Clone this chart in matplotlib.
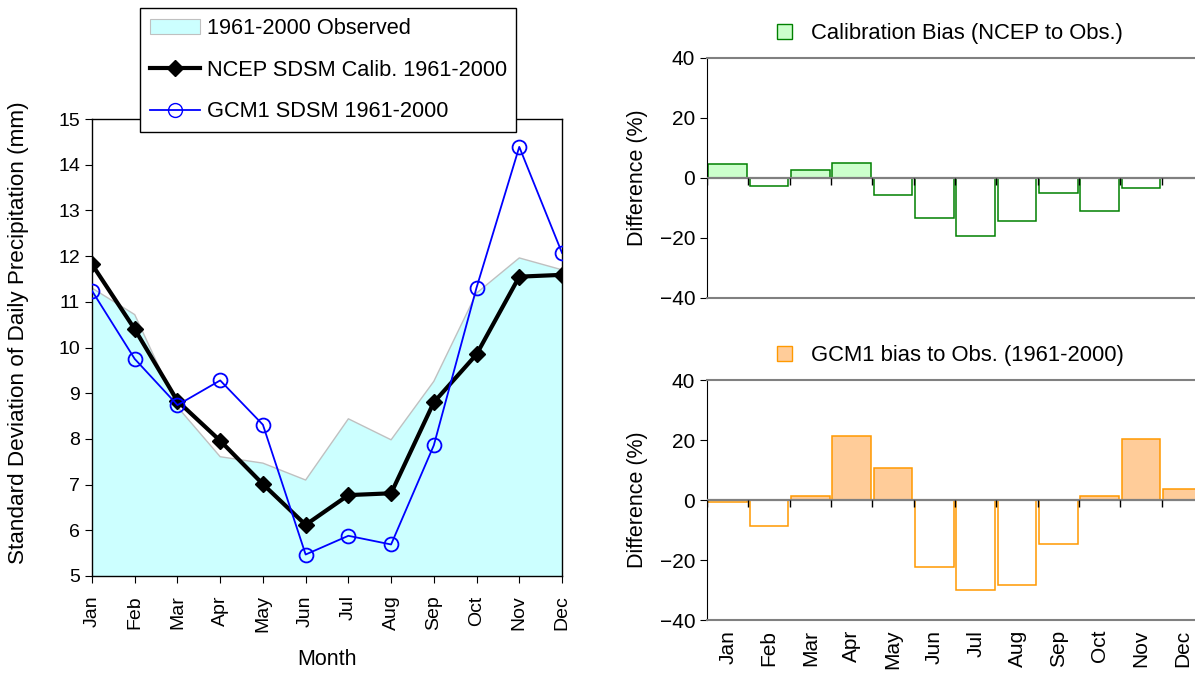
import numpy as np
import matplotlib
matplotlib.use("Agg")
import matplotlib.pyplot as plt
from matplotlib.patches import Patch
from matplotlib.lines import Line2D

plt.rcParams['font.family'] = ['Liberation Sans', 'DejaVu Sans']

months = ["Jan", "Feb", "Mar", "Apr", "May", "Jun", "Jul", "Aug", "Sep", "Oct", "Nov", "Dec"]
observed = [11.3, 10.72, 8.7, 7.61, 7.47, 7.10, 8.44, 7.98, 9.26, 11.19, 11.96, 11.70]
ncep = [11.82, 10.40, 8.83, 7.96, 7.01, 6.12, 6.77, 6.81, 8.80, 9.85, 11.55, 11.59]
gcm = [11.24, 9.75, 8.74, 9.28, 8.31, 5.47, 5.88, 5.69, 7.86, 11.31, 14.39, 12.07]
calib_bias = [4.5, -2.8, 2.8, 4.9, -5.6, -13.3, -19.4, -14.4, -5.0, -11.1, -3.4, 0.0]
gcm_bias = [-0.7, -8.8, 1.5, 21.5, 10.8, -22.3, -29.9, -28.2, -14.7, 1.5, 20.3, 3.6]

W, H = 1195, 676
fig = plt.figure(figsize=(W / 100, H / 100), dpi=100)
TICK_L = 14
TICK_R = 15
LAB = 15.5
LEG = 15.7

def fx(px):
    return px / W

def fy(py):
    return 1 - py / H

# ---------------- Left chart ----------------
ax = fig.add_axes([fx(92), fy(576), fx(562) - fx(92), fy(119) - fy(576)])
x = np.arange(len(months))
ax.fill_between(x, observed, 5, facecolor='#ccffff', edgecolor='none', zorder=1)
ax.plot(x, observed, color='#c0c0c0', lw=1, zorder=2)
ax.plot(x, ncep, color='black', lw=3, marker='D', ms=8, zorder=3)
ax.plot(x, gcm, color='#0000ff', lw=1.3, marker='o', ms=10, mfc='none', mec='#0000ff', mew=1.3, zorder=4)
ax.set_xlim(0, 11)
ax.set_ylim(5, 15)
ax.set_yticks(np.arange(5, 16, 1))
ax.set_xticks(x)
ax.set_xticklabels(months, rotation=90, fontsize=TICK_L)
ax.tick_params(axis='y', labelsize=TICK_L, direction='out', length=5)
ax.tick_params(axis='x', direction='out', length=5, pad=9)
for s in ax.spines.values():
    s.set_color('black')
    s.set_linewidth(1)
ax.set_ylabel("Standard Deviation of Daily Precipitation (mm)", fontsize=16.2)
ax.yaxis.set_label_coords(-0.134, 0.532)
ax.set_xlabel("Month", fontsize=LAB, labelpad=12)

handles = [
    Patch(facecolor='#ccffff', edgecolor='#c0c0c0', lw=0.8),
    Line2D([], [], color='black', lw=3, marker='D', ms=8),
    Line2D([], [], color='#0000ff', lw=1.3, marker='o', ms=10, mfc='none', mec='#0000ff'),
]
labels = ["1961-2000 Observed", "NCEP SDSM Calib. 1961-2000", "GCM1 SDSM 1961-2000"]
leg = fig.legend(handles, labels, loc='upper left', bbox_to_anchor=(fx(140), fy(8)),
                 fontsize=LEG, frameon=True, fancybox=False, edgecolor='black',
                 framealpha=1, handlelength=2.3, handletextpad=0.3, labelspacing=0.95,
                 borderpad=0.45, borderaxespad=0)
leg.get_frame().set_linewidth(1)

# ---------------- Right charts ----------------
def bias_chart(top_px, vals, edge, fill, title, show_labels):
    a = fig.add_axes([fx(707), fy(top_px + 240), 496 / W, 240 / H])
    n = len(vals)
    pos = np.arange(n) + 0.5
    v = np.array(vals)
    faces = [fill if val >= 0 else 'white' for val in v]
    a.bar(pos, v, width=0.93, color=faces, edgecolor=edge, lw=1.1, zorder=2)
    a.set_xlim(0, n)
    a.set_ylim(-40, 40)
    a.set_yticks([-40, -20, 0, 20, 40])
    a.axhline(0, color='#808080', lw=1.6, zorder=3)
    bounds = np.arange(n + 1)
    a.vlines(bounds, -2.2, 0, color='black', lw=1, zorder=3)
    a.set_xticks(pos)
    if show_labels:
        a.set_xticklabels(months, rotation=90, fontsize=TICK_R)
    else:
        a.set_xticklabels([])
    a.tick_params(axis='x', length=0, pad=7)
    a.tick_params(axis='y', labelsize=TICK_R, direction='out', length=5)
    a.spines['right'].set_visible(False)
    a.spines['left'].set_color('black')
    for side in ('top', 'bottom'):
        a.spines[side].set_color('#808080')
        a.spines[side].set_linewidth(1.5)
    a.set_ylabel("Difference (%)", fontsize=LAB, labelpad=8)
    h = Patch(facecolor=fill, edgecolor=edge, lw=1)
    a.legend([h], [title], loc='lower center', bbox_to_anchor=(0.49, 1.02),
             frameon=False, fontsize=15.8, handlelength=0.7, handleheight=0.7,
             handletextpad=0.85, borderaxespad=0)
    return a

bias_chart(58, calib_bias, '#008000', '#ccffcc', "Calibration Bias (NCEP to Obs.)", False)
bias_chart(380, gcm_bias, '#ff9900', '#ffcc99', "GCM1 bias to Obs. (1961-2000)", True)

fig.savefig("out.png", dpi=100)
